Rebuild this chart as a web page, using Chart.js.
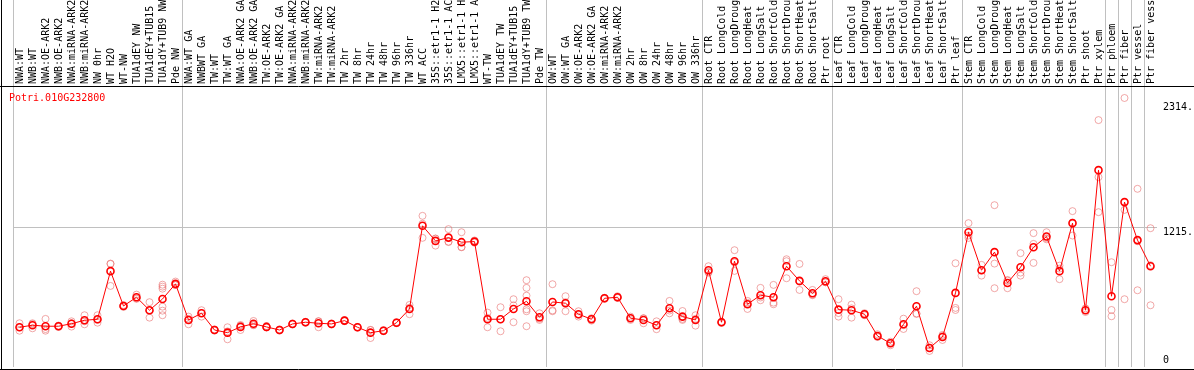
<!DOCTYPE html>
<html>
<head>
<meta charset="utf-8">
<script src="https://cdn.jsdelivr.net/npm/chart.js"></script>
<style>
html, body { margin: 0; padding: 0; background: #fff; }
</style>
</head>
<body>
<canvas id="expr" width="1194" height="370"></canvas>
<script>
var geneId = "Potri.010G232800";

var samples = [
  "NWA:WT", "NWB:WT", "NWA:OE-ARK2", "NWB:OE-ARK2", "NWA:miRNA-ARK2", "NWB:miRNA-ARK2",
  "NW 0hr", "WT H2O", "WT-NW", "TUA1dEY NW", "TUA1dEY+TUB15 NW", "TUA1dY+TUB9 NW", "Pde NW",
  "NWA:WT GA", "NWBWT GA", "TW:WT", "TW:WT GA", "NWA:OE-ARK2 GA", "NWB:OE-ARK2 GA",
  "TW:OE-ARK2", "TW:OE-ARK2 GA", "NWA:miRNA-ARK2 GA", "NWB:miRNA-ARK2 GA", "TW:miRNA-ARK2",
  "TW:miRNA-ARK2 GA", "TW 2hr", "TW 8hr", "TW 24hr", "TW 48hr", "TW 96hr", "TW 336hr", "WT ACC",
  "35S::etr1-1 H2O", "35S::etr1-1 ACC", "LMX5::etr1-1 H2O", "LMX5::etr1-1 ACC", "WT-TW",
  "TUA1dEY TW", "TUA1dEY+TUB15 TW", "TUA1dY+TUB9 TW", "Pde TW",
  "OW:WT", "OW:WT GA", "OW:OE-ARK2", "OW:OE-ARK2 GA", "OW:miRNA-ARK2", "OW:miRNA-ARK2 GA",
  "OW 2hr", "OW 8hr", "OW 24hr", "OW 48hr", "OW 96hr", "OW 336hr",
  "Root CTR", "Root LongCold", "Root LongDrought", "Root LongHeat", "Root LongSalt",
  "Root ShortCold", "Root ShortDrought", "Root ShortHeat", "Root ShortSalt", "Ptr root",
  "Leaf CTR", "Leaf LongCold", "Leaf LongDrought", "Leaf LongHeat", "Leaf LongSalt",
  "Leaf ShortCold", "Leaf ShortDrought", "Leaf ShortHeat", "Leaf ShortSalt", "Ptr leaf",
  "Stem CTR", "Stem LongCold", "Stem LongDrought", "Stem LongHeat", "Stem LongSalt",
  "Stem ShortCold", "Stem ShortDrought", "Stem ShortHeat", "Stem ShortSalt", "Ptr shoot", "Ptr xylem",
  "Ptr phloem", "Ptr fiber", "Ptr vessel", "Ptr fiber vessel"
];

// first sample of each block (88 = right edge)
var groupStarts = [0, 13, 41, 53, 63, 73, 84, 85, 86, 87, 88];

var meanExpr = [
  347, 365, 356, 356, 378, 408, 417, 837, 533, 609, 496, 594, 726,
  411, 469, 323, 300, 350, 378, 350, 323, 376, 391, 382, 376, 405, 347, 300, 317, 387, 507,
  1233, 1101, 1130, 1090, 1095, 417, 417, 507, 574, 434,
  568, 557, 461, 417, 600, 609, 426, 411, 365, 513, 440, 411,
  845, 391, 924, 548, 627, 609, 880, 752, 644, 749,
  501, 496, 461, 271, 207, 373, 531, 166, 262, 647,
  1177, 845, 1003, 734, 871, 1046, 1139, 837, 1256, 496, 1719,
  618, 1440, 1108, 880
];

var replicates = [
  [382, 317, 347], [382, 338, 375], [420, 317, 331], [356, 350, 362], [399, 382, 353],
  [452, 373, 399], [452, 387, 412], [900, 708, 903], [533, 525, 541], [632, 600, 595],
  [566, 431, 491], [719, 702, 684, 527, 492, 452], [746, 716, 716],
  [440, 373, 420], [496, 440, 471], [323, 318, 328], [347, 242, 311], [323, 360, 367],
  [402, 366, 366], [358, 346, 346], [323, 318, 328], [376, 380, 372], [391, 395, 387],
  [347, 400, 399], [376, 372, 380], [405, 410, 400], [347, 350, 344], [323, 253, 324],
  [317, 312, 322], [387, 392, 382], [542, 461, 518], [1320, 1128, 1251], [1060, 1121, 1122],
  [1204, 1095, 1091], [1177, 1046, 1047], [1095, 1105, 1085], [475, 347, 429], [522, 312, 417],
  [592, 391, 538], [758, 691, 623, 504, 487, 356], [469, 411, 422],
  [723, 487, 494], [618, 487, 566], [487, 440, 456], [420, 405, 426], [600, 605, 595],
  [618, 605, 604], [440, 411, 427], [382, 425, 426], [399, 330, 366], [577, 469, 493],
  [489, 411, 420], [452, 361, 420],
  [880, 824, 831], [391, 385, 397], [1020, 839, 913], [577, 507, 560], [691, 583, 607],
  [717, 548, 562], [924, 775, 941], [900, 746, 673], [673, 627, 632], [767, 740, 740],
  [592, 440, 471], [545, 431, 512], [461, 470, 452], [286, 265, 262], [221, 190, 210],
  [422, 332, 365], [662, 463, 468], [190, 140, 168], [280, 236, 270], [906, 516, 498],
  [1256, 1148, 1127], [892, 798, 845], [1413, 903, 688], [754, 688, 760], [994, 824, 798],
  [1169, 1075, 909], [1177, 1125, 1115], [885, 767, 859], [1361, 1148, 1259], [496, 480, 512],
  [2156, 1658, 1352],
  [915, 498, 443], [2349, 1372, 592], [1556, 670, 1098], [1212, 539, 889]
];

var yTicks = [0, 1215, 2314];
var yMax = 2445;

var monoFont = { family: "DejaVu Sans Mono", size: 10 };
var sepGray = "#c0c0c0";

var datasets = [{
  label: geneId,
  data: meanExpr,
  borderColor: "#ff0000",
  borderWidth: 1,
  pointRadius: 3.5,
  pointBorderWidth: 1.6,
  pointBorderColor: "#ff0000",
  pointBackgroundColor: "rgba(0,0,0,0)",
  tension: 0
}];
for (var k = 0; k < 6; k++) {
  datasets.push({
    label: "rep" + (k + 1),
    data: replicates.map(function (r) { return r[k] === undefined ? null : r[k]; }),
    showLine: false,
    pointRadius: 3.5,
    pointBorderWidth: 1,
    pointBorderColor: "rgba(232,110,110,0.6)",
    pointBackgroundColor: "rgba(0,0,0,0)"
  });
}

function sepColor(c) {
  return groupStarts.indexOf(c.index) >= 0 ? sepGray : "rgba(0,0,0,0)";
}

var frame = {
  id: "frame",
  afterDraw: function (chart) {
    var c = chart.ctx, a = chart.chartArea;
    c.save();
    c.strokeStyle = "#000";
    c.lineWidth = 1;
    c.beginPath();
    c.moveTo(1.5, 0); c.lineTo(1.5, chart.height);
    c.moveTo(0, a.top - 0.5); c.lineTo(chart.width, a.top - 0.5);
    c.moveTo(0, chart.height - 0.5); c.lineTo(chart.width, chart.height - 0.5);
    c.stroke();
    c.fillStyle = "#ff0000";
    c.font = "10px 'DejaVu Sans Mono'";
    c.textBaseline = "top";
    c.fillText(geneId, 9, 93);
    c.restore();
  }
};

var ctx = document.getElementById("expr").getContext("2d");
var chart = new Chart(ctx, {
  type: "line",
  data: { labels: samples, datasets: datasets },
  plugins: [frame],
  options: {
    responsive: false,
    animation: false,
    devicePixelRatio: 1,
    layout: { autoPadding: false, padding: { left: 13, right: 0, top: 0, bottom: 3 } },
    plugins: { legend: { display: false }, tooltip: { enabled: false } },
    scales: {
      x: {
        position: "top",
        offset: true,
        border: { display: false },
        grid: { offset: true, color: sepColor, tickColor: sepColor, tickLength: 87, drawTicks: true },
        ticks: {
          autoSkip: false, minRotation: 90, maxRotation: 90,
          padding: -84, labelOffset: 13, color: "#000", font: monoFont
        },
        afterFit: function (s) { s.height = 87; s.paddingLeft = 0; s.paddingRight = 0; }
      },
      y: {
        position: "right",
        min: 0,
        max: yMax,
        border: { display: false },
        grid: {
          drawTicks: false,
          color: function (c) { return c.tick && c.tick.value === yTicks[1] ? sepGray : "rgba(0,0,0,0)"; }
        },
        afterBuildTicks: function (s) { s.ticks = yTicks.map(function (v) { return { value: v }; }); },
        ticks: {
          padding: 6, labelOffset: 5, color: "#000", font: monoFont,
          // the zero label sits above its line, so it is lifted by two empty lines
          callback: function (v) { return v === 0 ? ["0", "", ""] : v + "."; }
        },
        afterFit: function (s) { s.width = 37; s.paddingTop = 0; s.paddingBottom = 0; }
      }
    }
  }
});
</script>
</body>
</html>
